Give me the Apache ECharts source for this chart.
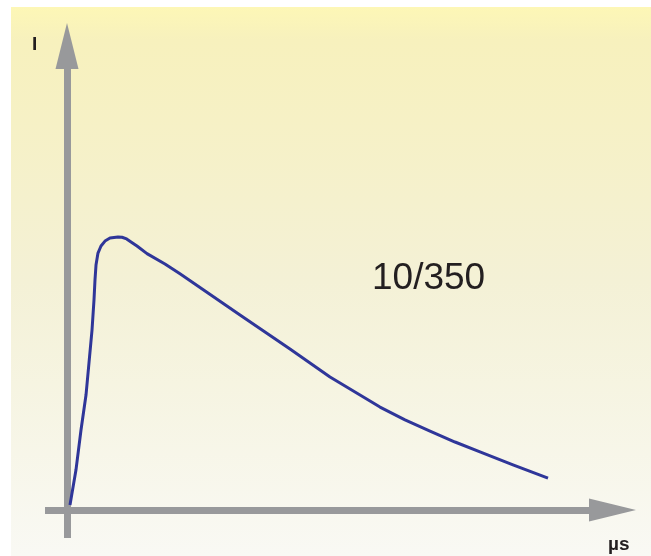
<!DOCTYPE html>
<html>
<head>
<meta charset="utf-8">
<script src="https://cdn.jsdelivr.net/npm/echarts@6/dist/echarts.min.js"></script>
<style>html,body{margin:0;padding:0;background:#fff}#c{width:651px;height:556px}</style>
</head>
<body>
<div id="c"></div>
<script>
// Time (µs, relative units, 0–100) and current (I, % of peak) for the 10/350 impulse
var timeValues = [0.62, 1.87, 2.91, 3.95, 4.57, 5.20, 5.61, 5.82, 6.03, 6.44, 7.07, 7.90, 8.94, 10.60, 11.43, 12.40, 13.31, 14.55, 16.63, 20.37, 23.49, 27.65, 35.97, 46.36, 54.68, 59.88, 65.07, 70.27, 75.47, 80.67, 85.86, 92.72, 100];
var currentValues = [1.8, 14.7, 29.3, 42.1, 53.9, 65.9, 76.9, 84.3, 89.7, 94.1, 96.7, 98.5, 99.6, 100, 99.9, 99.3, 98.2, 96.7, 93.9, 90.1, 86.5, 81.5, 71.4, 59.0, 48.7, 43.2, 37.7, 33.0, 28.9, 24.9, 21.3, 16.5, 11.7];
var waveLabel = '10/350';
var yAxisLabel = 'I';
var xAxisLabel = 'µs';

var data = timeValues.map(function (t, i) { return [t, currentValues[i]]; });

var chart = echarts.init(document.getElementById('c'), null, {renderer: 'canvas'});
var axisColor = '#98999b';
chart.setOption({
  backgroundColor: '#ffffff',
  animation: false,
  grid: {left: 45, right: 38.5, top: 46, bottom: 18, containLabel: false},
  xAxis: {
    type: 'value', min: -4.574, max: 113.41,
    axisLine: {show: true, onZero: true, symbol: ['none', 'triangle'], symbolSize: [23, 47],
      lineStyle: {color: axisColor, width: 7, cap: 'butt'}},
    axisTick: {show: false}, axisLabel: {show: false}, splitLine: {show: false}
  },
  yAxis: {
    type: 'value', min: -10.26, max: 169.96,
    axisLine: {show: true, onZero: true, symbol: ['none', 'triangle'], symbolSize: [23, 46],
      lineStyle: {color: axisColor, width: 7, cap: 'butt'}},
    axisTick: {show: false}, axisLabel: {show: false}, splitLine: {show: false}
  },
  graphic: [
    {type: 'rect', z: -100, silent: true,
     shape: {x: 11, y: 7, width: 640, height: 549},
     style: {fill: new echarts.graphic.LinearGradient(0, 0, 0, 1, [
       {offset: 0, color: '#fdf7b6'},
       {offset: 0.06, color: '#f7f1bd'},
       {offset: 0.5, color: '#f4f1d6'},
       {offset: 1, color: '#f9f9f4'}
     ])}},
    {type: 'text', z: 10, left: 372, top: 260,
     style: {text: waveLabel, font: '37px "Liberation Sans", Arial, sans-serif', fill: '#231f20'}},
    {type: 'text', z: 10, left: 32, top: 35,
     style: {text: yAxisLabel, font: 'bold 19px "Liberation Sans", Arial, sans-serif', fill: '#231f20'}},
    {type: 'text', z: 10, left: 608, top: 535,
     style: {text: xAxisLabel, font: 'bold 19px "Liberation Sans", Arial, sans-serif', fill: '#231f20'}}
  ],
  series: [{
    type: 'line', data: data, showSymbol: false, smooth: false,
    lineStyle: {color: '#2f3699', width: 3, join: 'round'}, z: 5
  }]
});
</script>
</body>
</html>
